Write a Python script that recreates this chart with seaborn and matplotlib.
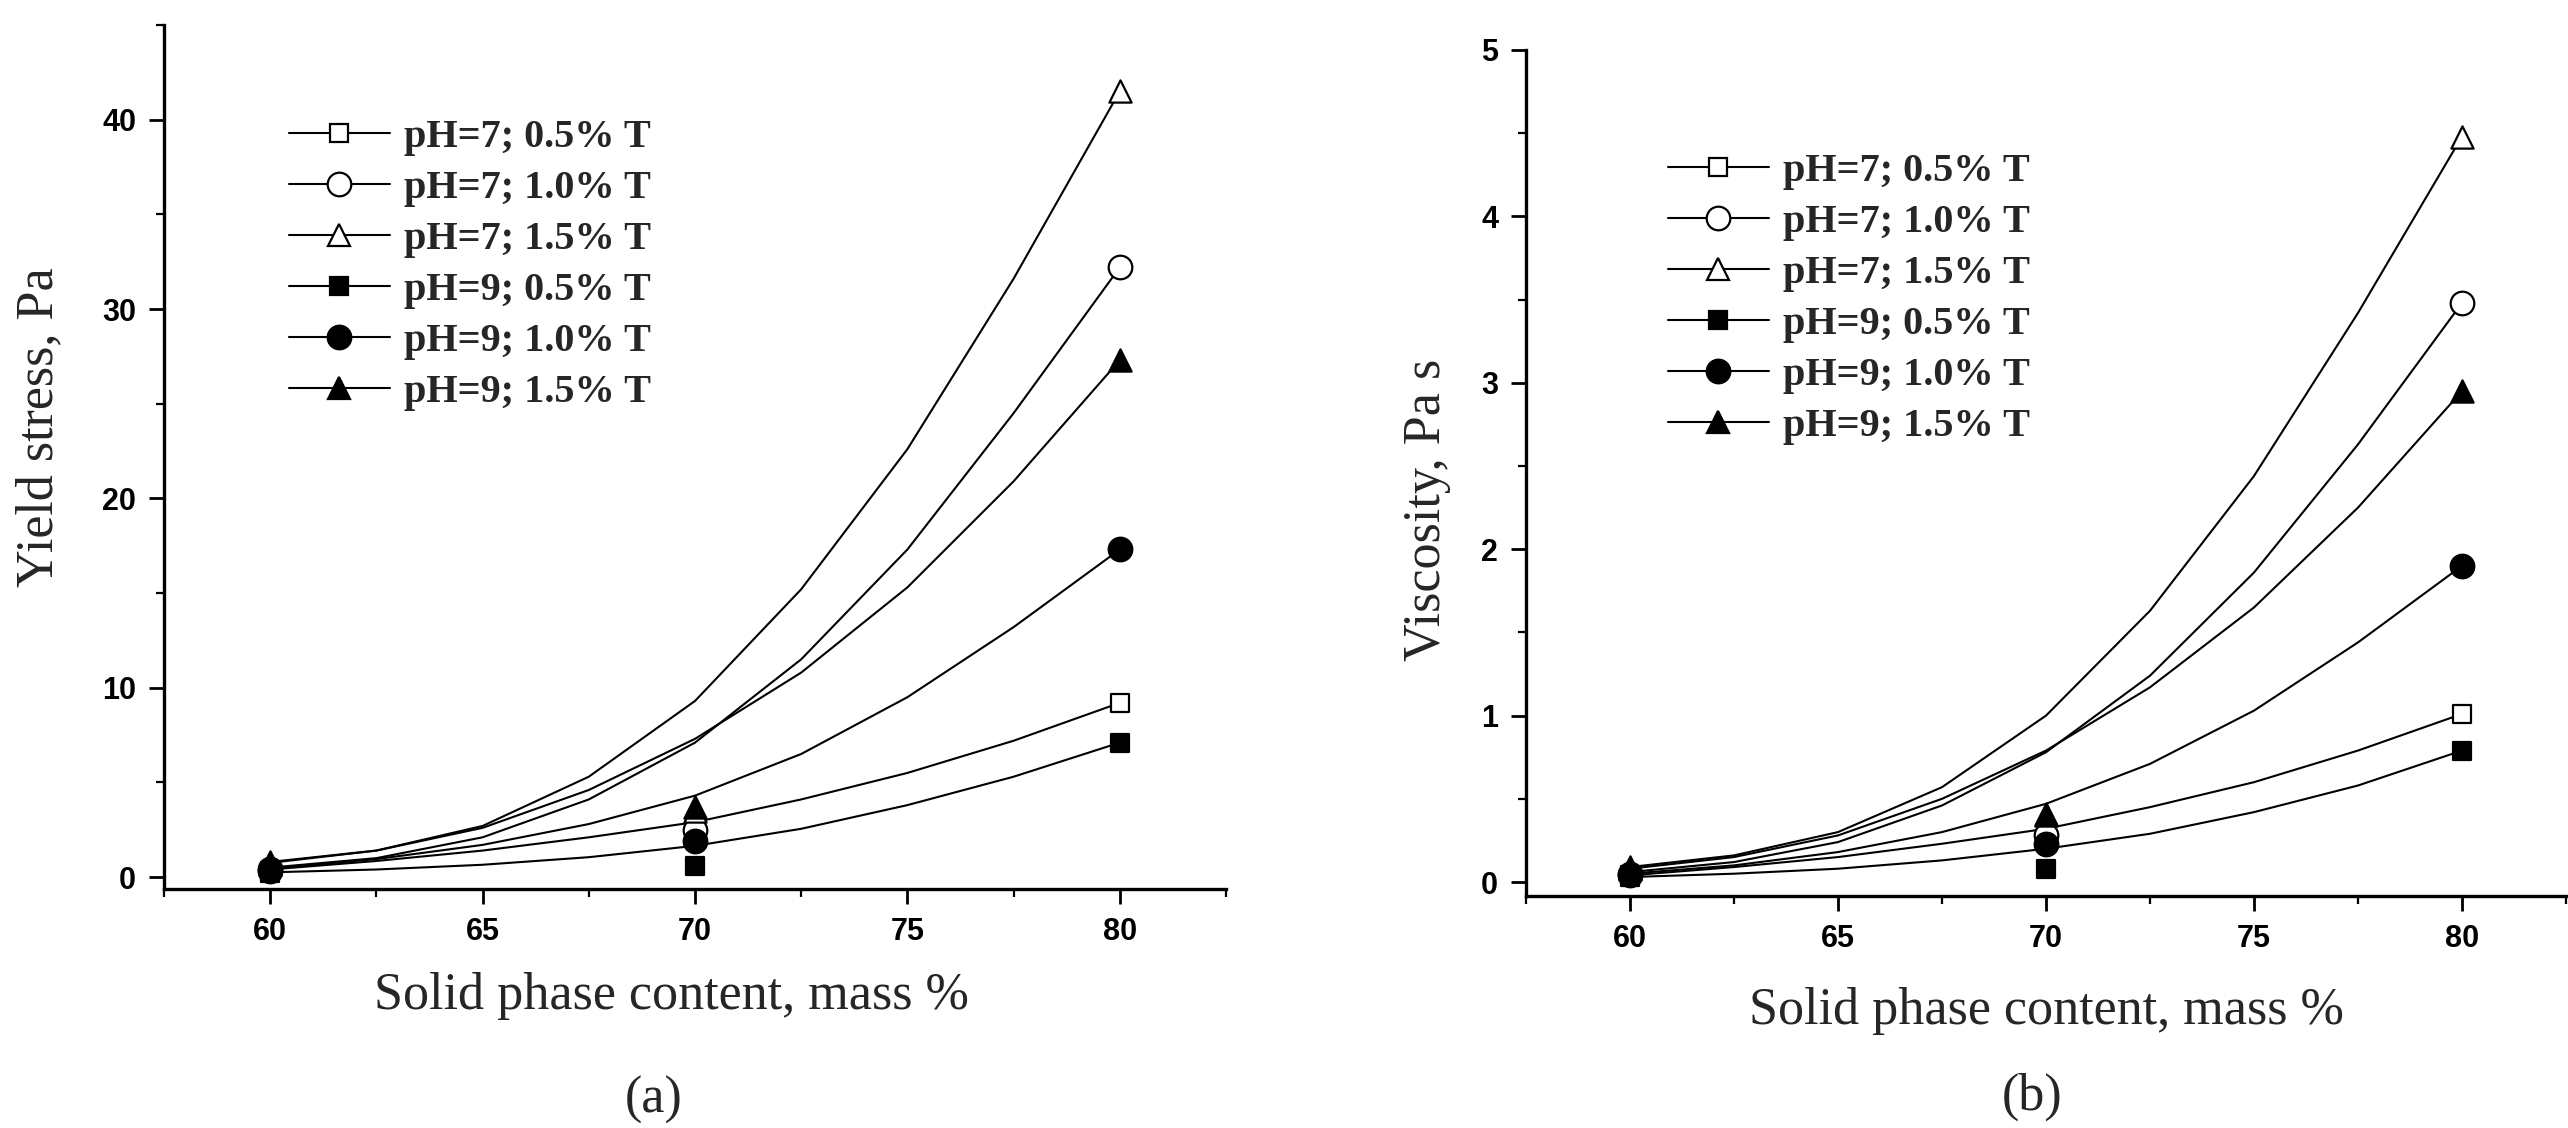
import matplotlib.pyplot as plt
import seaborn as sns
from matplotlib.lines import Line2D
from matplotlib.ticker import MultipleLocator

# measured points (solid phase content, mass %)
solid = [60, 70, 80]
solid_fit = [60, 62.5, 65, 67.5, 70, 72.5, 75, 77.5, 80]

labels = ["pH=7; 0.5% T", "pH=7; 1.0% T", "pH=7; 1.5% T",
          "pH=9; 0.5% T", "pH=9; 1.0% T", "pH=9; 1.5% T"]
markers = ["s", "o", "^", "s", "o", "^"]
filled = [False, False, False, True, True, True]

# (a) yield stress, Pa - points
ys_p7_05 = [0.3, 2.1, 9.2]
ys_p7_10 = [0.4, 2.5, 32.2]
ys_p7_15 = [0.7, 3.5, 41.5]
ys_p9_05 = [0.2, 0.6, 7.1]
ys_p9_10 = [0.3, 1.9, 17.3]
ys_p9_15 = [0.8, 3.7, 27.3]

# (a) yield stress - fitted curves
ys_fit_p7_05 = [0.4, 0.85, 1.4, 2.1, 2.9, 4.1, 5.5, 7.2, 9.2]
ys_fit_p7_10 = [0.5, 1.0, 2.1, 4.1, 7.1, 11.5, 17.3, 24.5, 32.2]
ys_fit_p7_15 = [0.8, 1.4, 2.7, 5.3, 9.3, 15.2, 22.6, 31.6, 41.5]
ys_fit_p9_05 = [0.25, 0.4, 0.65, 1.05, 1.65, 2.55, 3.8, 5.3, 7.1]
ys_fit_p9_10 = [0.45, 0.95, 1.7, 2.8, 4.3, 6.5, 9.5, 13.2, 17.3]
ys_fit_p9_15 = [0.75, 1.4, 2.6, 4.6, 7.3, 10.8, 15.3, 20.9, 27.3]

# (b) viscosity, Pa s - points
vis_p7_05 = [0.04, 0.25, 1.01]
vis_p7_10 = [0.05, 0.28, 3.48]
vis_p7_15 = [0.08, 0.40, 4.48]
vis_p9_05 = [0.03, 0.08, 0.79]
vis_p9_10 = [0.04, 0.23, 1.90]
vis_p9_15 = [0.09, 0.41, 2.95]

# (b) viscosity - fitted curves
vis_fit_p7_05 = [0.04, 0.09, 0.15, 0.23, 0.32, 0.45, 0.60, 0.79, 1.01]
vis_fit_p7_10 = [0.06, 0.12, 0.24, 0.46, 0.78, 1.24, 1.86, 2.63, 3.48]
vis_fit_p7_15 = [0.09, 0.16, 0.30, 0.57, 1.00, 1.63, 2.44, 3.42, 4.48]
vis_fit_p9_05 = [0.03, 0.05, 0.08, 0.13, 0.20, 0.29, 0.42, 0.58, 0.79]
vis_fit_p9_10 = [0.05, 0.10, 0.18, 0.30, 0.47, 0.71, 1.03, 1.44, 1.90]
vis_fit_p9_15 = [0.08, 0.15, 0.28, 0.50, 0.79, 1.17, 1.65, 2.25, 2.95]

ys_pts = [ys_p7_05, ys_p7_10, ys_p7_15, ys_p9_05, ys_p9_10, ys_p9_15]
ys_fits = [ys_fit_p7_05, ys_fit_p7_10, ys_fit_p7_15, ys_fit_p9_05, ys_fit_p9_10, ys_fit_p9_15]
vis_pts = [vis_p7_05, vis_p7_10, vis_p7_15, vis_p9_05, vis_p9_10, vis_p9_15]
vis_fits = [vis_fit_p7_05, vis_fit_p7_10, vis_fit_p7_15, vis_fit_p9_05, vis_fit_p9_10, vis_fit_p9_15]

sns.set_theme(style="ticks")
plt.rcParams['font.family'] = ['Liberation Serif', 'DejaVu Serif']

msize = {"s": 13, "o": 17, "^": 16}

fig = plt.figure(figsize=(25.68, 11.28), dpi=100)
W, H = 2568, 1128
ax_a = fig.add_axes([164 / W, 1 - 889 / H, (1226 - 164) / W, (889 - 25) / H])
ax_b = fig.add_axes([1526 / W, 1 - 896 / H, (2566 - 1526) / W, (896 - 50) / H])


def draw_panel(ax, pts, fits):
    for fit in fits:
        sns.lineplot(x=solid_fit, y=fit, ax=ax, color="black", linewidth=1.5)
    for p, m, f in zip(pts, markers, filled):
        sns.scatterplot(x=solid, y=p, ax=ax, marker=m, s=msize[m] ** 2,
                        facecolor="black" if f else "white", edgecolor="black",
                        linewidth=1.6, zorder=3)


draw_panel(ax_a, ys_pts, ys_fits)
draw_panel(ax_b, vis_pts, vis_fits)

ax_a.set_xlim(57.5, 82.5)
ax_a.set_ylim(-0.63, 45)
ax_b.set_xlim(57.5, 82.5)
ax_b.set_ylim(-0.084, 5)

ax_a.yaxis.set_major_locator(MultipleLocator(10))
ax_a.yaxis.set_minor_locator(MultipleLocator(5))
ax_b.yaxis.set_major_locator(MultipleLocator(1))
ax_b.yaxis.set_minor_locator(MultipleLocator(0.5))

for ax in (ax_a, ax_b):
    ax.xaxis.set_major_locator(MultipleLocator(5))
    ax.xaxis.set_minor_locator(MultipleLocator(2.5))
    sns.despine(ax=ax)
    for s in ("left", "bottom"):
        ax.spines[s].set_linewidth(2.4)
        ax.spines[s].set_color("black")
    ax.tick_params(which="major", direction="out", length=11, width=2, colors="black", pad=9)
    ax.tick_params(which="minor", direction="out", length=6, width=1.6, colors="black")
    for t in ax.get_xticklabels() + ax.get_yticklabels():
        t.set_fontfamily(['Liberation Sans', 'DejaVu Sans'])
        t.set_fontweight("bold")
        t.set_fontsize(22)

ax_a.set_xlabel("Solid phase content, mass %", fontsize=37.5, va="center")
ax_a.xaxis.set_label_coords(0.478, -0.124)
ax_a.set_ylabel("Yield stress, Pa", fontsize=37.5, va="center")
ax_a.yaxis.set_label_coords(-0.117, 0.535)

ax_b.set_xlabel("Solid phase content, mass %", fontsize=37.5, va="center")
ax_b.xaxis.set_label_coords(0.5, -0.136)
ax_b.set_ylabel("Viscosity, Pa s", fontsize=37.5, va="center")
ax_b.yaxis.set_label_coords(-0.095, 0.457)

handles = [Line2D([], [], color="black", linewidth=1.5, marker=m, markersize=msize[m],
                  markerfacecolor="black" if f else "white", markeredgecolor="black",
                  markeredgewidth=1.6)
           for m, f in zip(markers, filled)]

for ax, x0, y0 in ((ax_a, 289, 119), (ax_b, 1668, 153)):
    ax.legend(handles, labels, loc="upper left", bbox_to_anchor=(x0 / W, 1 - y0 / H),
              bbox_transform=fig.transFigure, frameon=False, borderpad=0, borderaxespad=0,
              handlelength=2.5, handletextpad=0.35, labelspacing=0.34,
              prop={"family": "Liberation Serif", "weight": "bold", "size": 29})

fig.text(654 / W, 1 - 1100 / H, "(a)", fontsize=37.5, ha="center", va="center")
fig.text(2032 / W, 1 - 1097 / H, "(b)", fontsize=37.5, ha="center", va="center")

plt.savefig("out.png", dpi=100)
plt.close()
